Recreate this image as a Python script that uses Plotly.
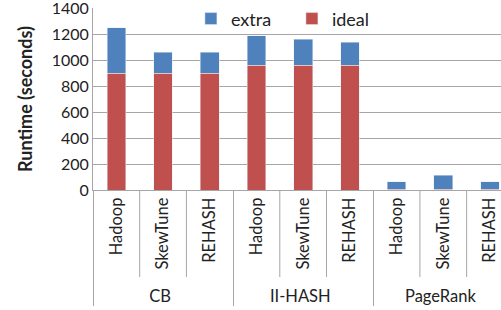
import plotly.graph_objects as go

groups = ["CB", "CB", "CB", "II-HASH", "II-HASH", "II-HASH", "PageRank", "PageRank", "PageRank"]
methods = ["Hadoop", "SkewTune", "REHASH"] * 3
ideal = [900, 900, 900, 960, 960, 960, 4, 4, 4]
extra = [348, 160, 160, 225, 200, 175, 60, 108, 60]
yticks = [0, 200, 400, 600, 800, 1000, 1200, 1400]

BLUE = "#4F81BD"
RED = "#C0504D"
GRID = "#A6A6A6"
FONT = "Lato"

fig = go.Figure()
fig.add_trace(go.Bar(x=[groups, methods], y=ideal, name="ideal", marker=dict(color=RED)))
fig.add_trace(go.Bar(x=[groups, methods], y=extra, name="extra", marker=dict(color=BLUE)))

n = len(methods)
# short separators between inner categories
for i in range(n - 1):
    if groups[i] == groups[i + 1]:
        fig.add_shape(type="line", xref="x", yref="paper", x0=i + 0.5, x1=i + 0.5,
                      y0=0, y1=-87 / 182, line=dict(color=GRID, width=1))

fig.update_layout(
    width=501, height=310,
    margin=dict(l=93, r=0, t=8, b=120, autoexpand=False),
    paper_bgcolor="white", plot_bgcolor="white",
    barmode="stack", bargap=0.6,
    font=dict(family=FONT, size=16.5, color="#222222"),
    showlegend=True,
    legend=dict(orientation="h", x=0.24, y=0.94, xanchor="left", yanchor="middle",
                traceorder="reversed", font=dict(size=18), entrywidth=56,
                bgcolor="rgba(0,0,0,0)"),
    xaxis=dict(type="multicategory", range=[-0.5, 8.236], tickangle=-90, automargin=False,
               showline=True, linecolor=GRID, ticks="", showdividers=True,
               dividercolor=GRID, dividerwidth=1, tickfont=dict(size=16.5)),
    yaxis=dict(range=[0, 1400], tickvals=yticks, showgrid=True, gridcolor=GRID,
               automargin=False, ticklabeloverflow="allow",
               showline=True, linecolor=GRID, ticks="", zeroline=False,
               tickfont=dict(size=16),
               title=dict(text="<b>Runtime (seconds)</b>", font=dict(size=18), standoff=14)),
)

fig.write_html("out.html", config={"displayModeBar": False},
               post_script="document.body.style.margin='0';")
